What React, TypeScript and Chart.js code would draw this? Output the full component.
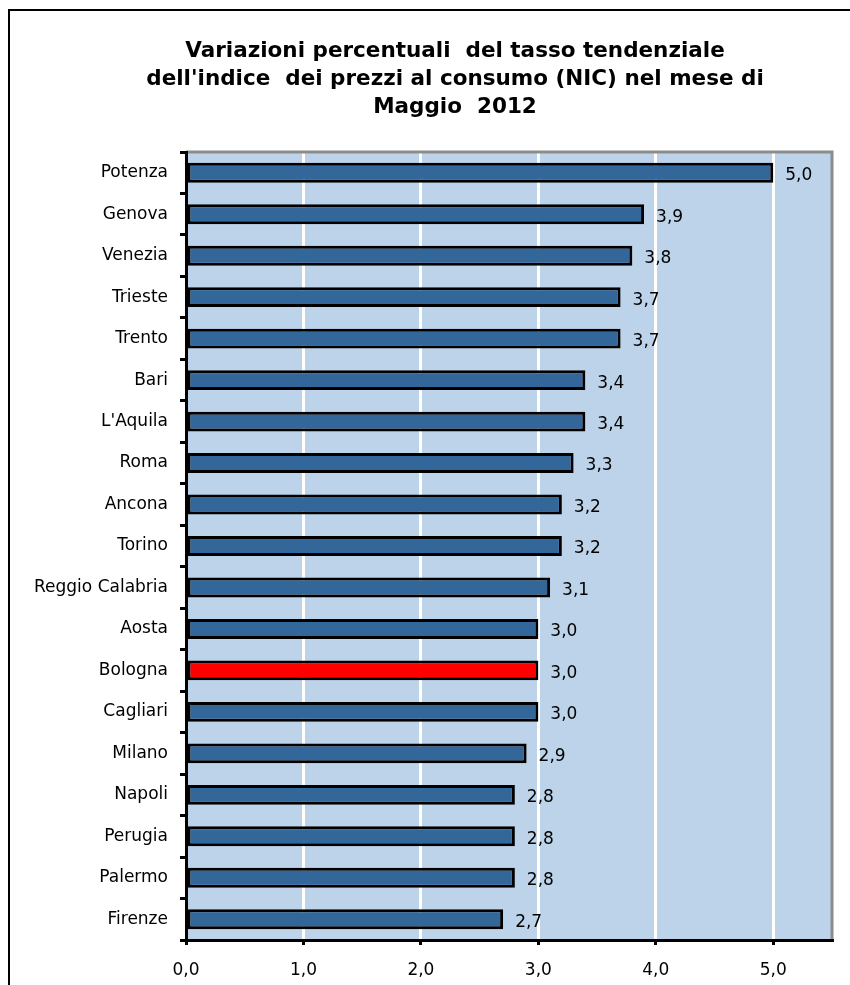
import React, { useEffect, useRef } from "react";
import { Chart, registerables } from "chart.js";

Chart.register(...registerables);

const cities = [
  "Potenza", "Genova", "Venezia", "Trieste", "Trento", "Bari", "L'Aquila", "Roma",
  "Ancona", "Torino", "Reggio Calabria", "Aosta", "Bologna", "Cagliari", "Milano",
  "Napoli", "Perugia", "Palermo", "Firenze",
];
const values = [5.0, 3.9, 3.8, 3.7, 3.7, 3.4, 3.4, 3.3, 3.2, 3.2, 3.1, 3.0, 3.0, 3.0, 2.9, 2.8, 2.8, 2.8, 2.7];
const highlightCity = "Bologna";
const titleLines = [
  "Variazioni percentuali  del tasso tendenziale",
  "dell'indice  dei prezzi al consumo (NIC) nel mese di",
  "Maggio  2012",
];
const xTicks = [0, 1, 2, 3, 4, 5];

const FONT = "'DejaVu Sans', Verdana, sans-serif";
const fmt = (v: number) => v.toFixed(1).replace(".", ",");

export default function App() {
  const ref = useRef<HTMLCanvasElement | null>(null);
  useEffect(() => {
    if (!ref.current) return;
    const decor = {
      id: "decor",
      beforeDraw(chart: any) {
        const { ctx, chartArea: a } = chart;
        ctx.save();
        ctx.fillStyle = "#ffffff";
        ctx.fillRect(0, 0, chart.width, chart.height);
        ctx.strokeStyle = "#000";
        ctx.lineWidth = 2;
        ctx.beginPath();
        ctx.moveTo(9, chart.height);
        ctx.lineTo(9, 10);
        ctx.lineTo(chart.width, 10);
        ctx.stroke();
        ctx.fillStyle = "#BCD3EA";
        ctx.fillRect(a.left, a.top, a.right - a.left, a.bottom - a.top);
        ctx.fillStyle = "#000";
        ctx.font = `bold 21.5px ${FONT}`;
        ctx.textAlign = "center";
        ctx.textBaseline = "middle";
        titleLines.forEach((t, i) => ctx.fillText(t, 455, 51 + i * 28));
        ctx.restore();
      },
      beforeDatasetsDraw(chart: any) {
        const { ctx, chartArea: a } = chart;
        ctx.save();
        ctx.strokeStyle = "#8C8C8C";
        ctx.lineWidth = 3;
        ctx.beginPath();
        ctx.moveTo(a.left, a.top);
        ctx.lineTo(a.right, a.top);
        ctx.lineTo(a.right, a.bottom);
        ctx.stroke();
        ctx.restore();
      },
      afterDatasetsDraw(chart: any) {
        const { ctx } = chart;
        const meta = chart.getDatasetMeta(0);
        ctx.save();
        ctx.fillStyle = "#000";
        ctx.font = `17px ${FONT}`;
        ctx.textAlign = "left";
        ctx.textBaseline = "middle";
        meta.data.forEach((bar: any, i: number) => {
          ctx.fillText(fmt(values[i]), bar.x + 12, bar.y + 3);
        });
        ctx.restore();
      },
    };
    const chart = new Chart(ref.current, {
      type: "bar",
      data: {
        labels: cities,
        datasets: [
          {
            data: values,
            backgroundColor: cities.map((c) => (c === highlightCity ? "#FF0000" : "#336699")),
            borderColor: "#000",
            borderWidth: 3,
            borderSkipped: false,
            barPercentage: 0.48,
            categoryPercentage: 1,
          },
        ],
      },
      options: {
        indexAxis: "y",
        responsive: false,
        animation: false,
        devicePixelRatio: 1,
        layout: { padding: { left: 0, top: 152, right: 18, bottom: 0 } },
        plugins: { legend: { display: false }, title: { display: false }, tooltip: { enabled: false } },
        scales: {
          x: {
            min: 0,
            max: 5.5,
            afterFit(s: any) { s.height = 45; },
            afterBuildTicks(s: any) { s.ticks = xTicks.map((v) => ({ value: v })); },
            grid: { color: "#ffffff", lineWidth: 3, tickColor: "#000", tickLength: 5, tickWidth: 3 },
            border: { color: "#000", width: 3, z: 1 },
            ticks: {
              color: "#000",
              font: { family: FONT, size: 17 },
              padding: 15,
              callback: (v: any) => fmt(Number(v)),
            },
          },
          y: {
            afterFit(s: any) { s.width = 186; },
            grid: { drawOnChartArea: false, tickColor: "#000", tickLength: 6, tickWidth: 3, offset: true },
            border: { color: "#000", width: 3, z: 1 },
            ticks: { color: "#000", font: { family: FONT, size: 17 }, padding: 12, autoSkip: false },
          },
        },
      },
      plugins: [decor],
    } as any);
    return () => chart.destroy();
  }, []);
  return (
    <div style={{ position: "fixed", left: 0, top: 0, width: 850, height: 985 }}>
      <canvas ref={ref} width={850} height={985} style={{ display: "block" }} />
    </div>
  );
}
